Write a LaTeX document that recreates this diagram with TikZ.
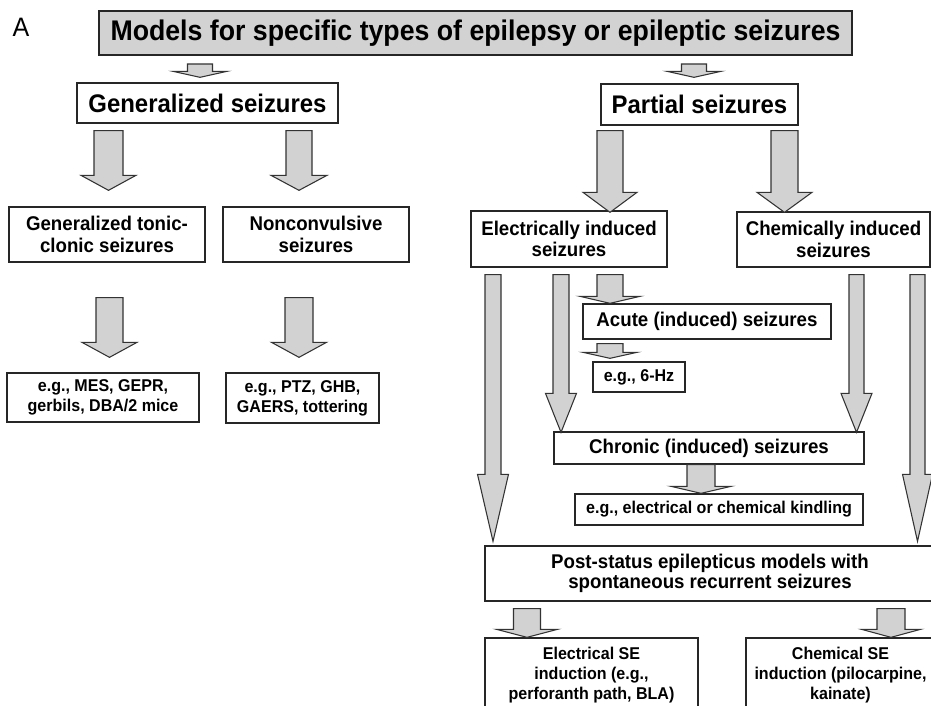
\documentclass[tikz,border=0pt]{standalone}
\usepackage{fontspec}
\setmainfont{Liberation Sans}[FakeStretch=0.94]
\usepackage{tikz}
\usetikzlibrary{calc,positioning}
\tikzset{
    topbox/.style={
      rectangle,
           draw=black!85, line width=1.5pt, fill=gray!35,
           inner sep=0pt,
           align=center,
           font=\fontsize{21.3}{24}\selectfont\bfseries,
           },
}
\tikzset{
    mainbox/.style={
      rectangle,
           draw=black!85, line width=1pt,
           inner sep=0pt,
           align=center,
           font=\fontsize{19.1}{21}\selectfont\bfseries,
           },
}
\tikzset{
    typebox/.style={
      rectangle,
           draw=black!85, line width=1pt,
           inner sep=0pt,
           align=center,
           font=\fontsize{14.9}{16.3}\selectfont\bfseries,
           },
}
\tikzset{
    examplebox/.style={
      rectangle,
           draw=black!85, line width=1pt,
           inner sep=0pt,
           align=center,
           font=\fontsize{12.8}{14.8}\selectfont\bfseries,
           },
}
\tikzset{
    arrowbody/.style={
           draw=black!80, fill=gray!35, line width=0.8pt, line join=miter,
           },
}
% block arrow: x, from, to, top gap, tip offset, shaft half width, head half width, head length
\newcommand{\blockarrow}[8]{%
  \coordinate (ba1) at ($(#2.south -| #1,0)+(0,#4)$);
  \coordinate (ba2) at ($(#3.north -| #1,0)+(0,#5)$);
  \path[arrowbody] ($(ba1)+(-#6,0)$) -- ($(ba2)+(-#6,-#8)$) -- ($(ba2)+(-#7,-#8)$) -- (ba2)
     -- ($(ba2)+(#7,-#8)$) -- ($(ba2)+(#6,-#8)$) -- ($(ba1)+(#6,0)$) -- cycle;
}

\begin{document}
\begin{tikzpicture}[x=0.75pt,y=-0.75pt]
\useasboundingbox (0,0) rectangle (931,706);

\node[font=\fontsize{20}{22}\selectfont] (lbl) at (21,27) {A};

\node[topbox,minimum width=564.75pt,minimum height=33pt] (md) at (475.5,33) {Models for specific types of epilepsy or epileptic seizures};

\node[mainbox,minimum width=195.75pt,minimum height=30pt] (gs) at (207.5,103) {Generalized seizures};
\node[mainbox,minimum width=147.75pt,minimum height=30.75pt] (ps) at (699.5,104.5) {Partial seizures};

% generalized side
\node[typebox,minimum width=147pt,minimum height=41.25pt] (gtc) at (107,234.5) {Generalized tonic-\\clonic seizures};
\node[typebox,minimum width=139.5pt,minimum height=41.25pt] (nc) at (316,234.5) {Nonconvulsive\\seizures};

\node[examplebox,minimum width=144pt,minimum height=36.75pt] (mes) at (103,397.5) {e.g., MES, GEPR,\\gerbils, DBA/2 mice};
\node[examplebox,minimum width=114.75pt,minimum height=37.5pt] (ptz) at (302.5,398) {e.g., PTZ, GHB,\\GAERS, tottering};

% partial side
\node[typebox,minimum width=147pt,minimum height=42pt] (eis) at (569,239) {Electrically induced\\seizures};
\node[typebox,minimum width=144.75pt,minimum height=41.25pt] (cis) at (833.5,239.5) {Chemically induced\\seizures};

\node[typebox,minimum width=186pt,minimum height=26.25pt] (acs) at (707,321.5) {Acute (induced) seizures};
\node[examplebox,minimum width=69pt,minimum height=22.5pt] (hz) at (639,377) {e.g., 6-Hz};

\node[typebox,minimum width=232.5pt,minimum height=24pt] (ccs) at (709,448) {Chronic (induced) seizures};
\node[examplebox,minimum width=216pt,minimum height=23.25pt] (kin) at (719,509.5) {e.g., electrical or chemical kindling};

\node[typebox,font=\fontsize{14.9}{15}\selectfont\bfseries,minimum width=337.5pt,minimum height=41.25pt] (pse) at (710,573.5) {Post-status epilepticus models with\\spontaneous recurrent seizures};

\node[examplebox,minimum width=159.75pt,minimum height=55.5pt] (ese) at (591.5,675) {Electrical SE\\induction (e.g.,\\perforanth path, BLA)};
\node[examplebox,minimum width=141.75pt,minimum height=55.5pt] (cse) at (840.5,675) {Chemical SE\\induction (pilocarpine,\\kainate)};

% arrows
\blockarrow{200}{md}{gs}{8}{-5}{12.5}{27}{6}
\blockarrow{694}{md}{ps}{8}{-6}{12.5}{27}{6}

\blockarrow{108.5}{gs}{gtc}{7}{-16}{14.5}{27.5}{15}
\blockarrow{299}{gs}{nc}{7}{-16}{13}{28}{15}
\blockarrow{109.5}{gtc}{mes}{35}{-15}{13.5}{27.5}{15}
\blockarrow{299}{nc}{ptz}{35}{-15}{14}{27.5}{15}

\blockarrow{610}{ps}{eis}{5}{2}{13}{27}{20}
\blockarrow{784.5}{ps}{cis}{5}{1}{13.5}{27.5}{20}

\blockarrow{493}{eis}{pse}{7}{-4}{8}{15.5}{67}
\blockarrow{561}{eis}{ccs}{7}{1}{8}{15.5}{39}
\blockarrow{610}{eis}{acs}{7}{0}{13}{30}{7}
\blockarrow{610}{acs}{hz}{4}{-3}{13}{27}{6}
\blockarrow{856.5}{cis}{ccs}{7}{1}{7.5}{15.5}{39}
\blockarrow{917.5}{cis}{pse}{7}{-4}{7.5}{15}{67}
\blockarrow{701}{ccs}{kin}{0}{0}{14}{30}{7}

\blockarrow{527}{pse}{ese}{7}{0}{13.5}{30.5}{8}
\blockarrow{891}{pse}{cse}{7}{0}{14}{29.5}{8}

\end{tikzpicture}
\end{document}
